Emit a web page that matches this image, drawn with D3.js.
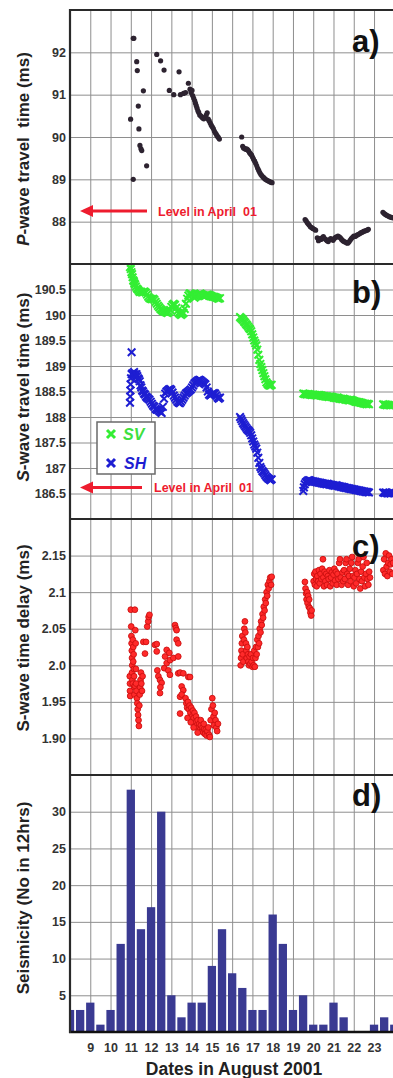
<!DOCTYPE html>
<html>
<head>
<meta charset="utf-8">
<script src="https://cdn.jsdelivr.net/npm/d3@7"></script>
<style>
  html, body { margin: 0; padding: 0; background: #fff; }
  svg { display: block; font-family: "Liberation Sans", Arial, sans-serif; }
</style>
</head>
<body>
<svg id="chart" width="393" height="1078"></svg>
<script>
// ---- data (day of August 2001, value) ----
const dayTicks = [9, 10, 11, 12, 13, 14, 15, 16, 17, 18, 19, 20, 21, 22, 23];

const pTicks = [88, 89, 90, 91, 92];
const sTicks = [186.5, 187, 187.5, 188, 188.5, 189, 189.5, 190, 190.5];
const dTicks = [1.90, 1.95, 2.0, 2.05, 2.1, 2.15];
const dTickLabels = ['1.90', '1.95', '2.0', '2.05', '2.1', '2.15'];
const qTicks = [5, 10, 15, 20, 25, 30];

// level in April 01 (reference arrows)
const pLevelApril = 88.25;
const sLevelApril = 186.62;

// a) P-wave travel time (ms)
const pWave = [
  [10.99, 90.42], [11.12, 89.00], [11.12, 92.33], [11.15, 92.33], [11.29, 91.78], [11.32, 91.57],
  [11.37, 90.73], [11.40, 90.19], [11.45, 89.80], [11.50, 89.72], [11.54, 89.68], [11.62, 91.09],
  [11.78, 89.32], [12.28, 91.95], [12.47, 91.80], [12.64, 91.58], [12.90, 91.10], [13.12, 91.00],
  [13.38, 91.54], [13.45, 91.00], [13.60, 91.03], [13.70, 91.05], [13.84, 91.27],
  [13.92, 91.13], [13.97, 91.05], [14.02, 91.10], [14.05, 90.98], [14.10, 90.92], [14.15, 90.86],
  [14.19, 90.80], [14.23, 90.74], [14.27, 90.68], [14.31, 90.62], [14.35, 90.58], [14.40, 90.52],
  [14.45, 90.50], [14.50, 90.47], [14.55, 90.45], [14.60, 90.43], [14.66, 90.46], [14.72, 90.52],
  [14.77, 90.57], [14.82, 90.42], [14.87, 90.38], [14.92, 90.33], [14.97, 90.28], [15.02, 90.24],
  [15.07, 90.20], [15.12, 90.14], [15.17, 90.10], [15.22, 90.06], [15.27, 90.02], [15.32, 89.99],
  [15.37, 89.95],
  [16.47, 90.00], [16.52, 89.78], [16.56, 89.74], [16.61, 89.73], [16.66, 89.71], [16.71, 89.72],
  [16.76, 89.70], [16.81, 89.67], [16.86, 89.63], [16.91, 89.60], [16.96, 89.57], [17.01, 89.52],
  [17.06, 89.47], [17.11, 89.43], [17.16, 89.38], [17.21, 89.32], [17.26, 89.26], [17.31, 89.21],
  [17.36, 89.16], [17.41, 89.12], [17.46, 89.09], [17.51, 89.06], [17.56, 89.04], [17.62, 89.01],
  [17.68, 88.99], [17.74, 88.97], [17.80, 88.96], [17.86, 88.94], [17.92, 88.93], [17.97, 88.92],
  [19.60, 88.05], [19.65, 88.02], [19.70, 87.98], [19.75, 87.95], [19.80, 87.92], [19.86, 87.88],
  [19.92, 87.86], [19.98, 87.84], [20.05, 87.82], [20.12, 87.80], [20.20, 87.62], [20.26, 87.55],
  [20.32, 87.60], [20.38, 87.58], [20.44, 87.62], [20.50, 87.65], [20.56, 87.60], [20.62, 87.58],
  [20.68, 87.55], [20.74, 87.53], [20.80, 87.57], [20.86, 87.60], [20.92, 87.58], [20.98, 87.56],
  [21.04, 87.60], [21.10, 87.63], [21.16, 87.64], [21.22, 87.66], [21.28, 87.64], [21.34, 87.62],
  [21.40, 87.58], [21.46, 87.55], [21.52, 87.53], [21.58, 87.52], [21.64, 87.50], [21.70, 87.49],
  [21.76, 87.52], [21.82, 87.56], [21.88, 87.60], [21.94, 87.63], [22.00, 87.66], [22.06, 87.65],
  [22.12, 87.67], [22.18, 87.69], [22.24, 87.70], [22.30, 87.72], [22.36, 87.74], [22.42, 87.75],
  [22.48, 87.77], [22.54, 87.78], [22.60, 87.79], [22.66, 87.80], [22.72, 87.82],
  [23.44, 88.22], [23.50, 88.19], [23.56, 88.17], [23.62, 88.15], [23.68, 88.14], [23.74, 88.12],
  [23.80, 88.11], [23.86, 88.10], [23.92, 88.09]
];

// b) S-wave travel time (ms), SV
const svWave = [
  [10.96, 190.94], [11.00, 190.90], [11.03, 190.84], [11.06, 190.80], [11.09, 190.74], [11.12, 190.68],
  [11.15, 190.66], [11.18, 190.62], [11.21, 190.60], [11.25, 190.56], [11.30, 190.52], [11.35, 190.50],
  [11.40, 190.47], [11.45, 190.45], [11.50, 190.46], [11.56, 190.44], [11.62, 190.45], [11.68, 190.46],
  [11.74, 190.44], [11.80, 190.40], [11.86, 190.36], [11.92, 190.33], [11.98, 190.32], [12.04, 190.31],
  [12.10, 190.32], [12.16, 190.30], [12.22, 190.26], [12.28, 190.22], [12.34, 190.18], [12.40, 190.15],
  [12.46, 190.12], [12.52, 190.10], [12.58, 190.08], [12.64, 190.07], [12.70, 190.06], [12.76, 190.05],
  [12.82, 190.04], [12.88, 190.06], [12.94, 190.10], [13.00, 190.16], [13.06, 190.20], [13.12, 190.22],
  [13.18, 190.20], [13.24, 190.14], [13.30, 190.08], [13.36, 190.04], [13.42, 190.02], [13.48, 190.00],
  [13.54, 190.02], [13.60, 190.04], [13.66, 190.12], [13.72, 190.22], [13.78, 190.32], [13.84, 190.38],
  [13.90, 190.42], [13.96, 190.42], [14.02, 190.40], [14.08, 190.36], [14.14, 190.34], [14.20, 190.36],
  [14.26, 190.38], [14.32, 190.40], [14.38, 190.41], [14.44, 190.42], [14.50, 190.40], [14.56, 190.38],
  [14.62, 190.37], [14.68, 190.38], [14.74, 190.39], [14.80, 190.40], [14.86, 190.39], [14.92, 190.38],
  [14.98, 190.37], [15.04, 190.36], [15.10, 190.36], [15.16, 190.35], [15.22, 190.34], [15.28, 190.33],
  [15.34, 190.32], [15.40, 190.33],
  [16.39, 189.96], [16.44, 189.94], [16.49, 189.92], [16.54, 189.90], [16.59, 189.87], [16.64, 189.85],
  [16.69, 189.82], [16.74, 189.80], [16.79, 189.77], [16.84, 189.74], [16.89, 189.72], [16.94, 189.68],
  [16.99, 189.62], [17.04, 189.56], [17.09, 189.50], [17.14, 189.45], [17.19, 189.40], [17.24, 189.32],
  [17.29, 189.22], [17.34, 189.12], [17.39, 189.04], [17.44, 188.98], [17.49, 188.92], [17.54, 188.86],
  [17.59, 188.80], [17.64, 188.74], [17.69, 188.68], [17.74, 188.65], [17.79, 188.63], [17.84, 188.62],
  [17.89, 188.62], [17.95, 188.63],
  [19.51, 188.46], [19.57, 188.45], [19.63, 188.45], [19.69, 188.44], [19.75, 188.45], [19.81, 188.44],
  [19.87, 188.44], [19.93, 188.43], [19.99, 188.44], [20.05, 188.43], [20.11, 188.43], [20.17, 188.42],
  [20.23, 188.43], [20.29, 188.43], [20.35, 188.42], [20.41, 188.42], [20.47, 188.41], [20.53, 188.41],
  [20.59, 188.40], [20.65, 188.40], [20.71, 188.40], [20.77, 188.39], [20.83, 188.40], [20.89, 188.39],
  [20.95, 188.39], [21.01, 188.38], [21.07, 188.38], [21.13, 188.37], [21.19, 188.38], [21.25, 188.37],
  [21.31, 188.36], [21.37, 188.36], [21.43, 188.35], [21.49, 188.36], [21.55, 188.35], [21.61, 188.34],
  [21.67, 188.34], [21.73, 188.33], [21.79, 188.33], [21.85, 188.34], [21.91, 188.33], [21.97, 188.32],
  [22.03, 188.31], [22.09, 188.30], [22.15, 188.30], [22.21, 188.29], [22.27, 188.29], [22.33, 188.28],
  [22.39, 188.28], [22.45, 188.27], [22.51, 188.26], [22.57, 188.26], [22.63, 188.25], [22.69, 188.26],
  [22.75, 188.25],
  [23.45, 188.25], [23.51, 188.24], [23.57, 188.24], [23.63, 188.23], [23.69, 188.24], [23.75, 188.23],
  [23.81, 188.23], [23.87, 188.24], [23.93, 188.24]
];

// b) S-wave travel time (ms), SH
const shWave = [
  [11.04, 189.27],
  [10.96, 188.28], [10.97, 188.40], [10.98, 188.52], [10.99, 188.64], [11.01, 188.76], [11.04, 188.84],
  [11.08, 188.86], [11.12, 188.84], [11.16, 188.88], [11.20, 188.84], [11.24, 188.80], [11.28, 188.84],
  [11.32, 188.80], [11.36, 188.76], [11.40, 188.74], [11.44, 188.70], [11.48, 188.62], [11.52, 188.58],
  [11.56, 188.52], [11.60, 188.50], [11.65, 188.46], [11.70, 188.44], [11.75, 188.40], [11.80, 188.38],
  [11.86, 188.36], [11.92, 188.34], [11.98, 188.30], [12.04, 188.26], [12.10, 188.22], [12.16, 188.20],
  [12.22, 188.16], [12.28, 188.14], [12.34, 188.14], [12.40, 188.12], [12.46, 188.10], [12.52, 188.08],
  [12.58, 188.20], [12.64, 188.36], [12.70, 188.46], [12.76, 188.50], [12.82, 188.52], [12.88, 188.54],
  [12.94, 188.55], [13.00, 188.53], [13.06, 188.48], [13.12, 188.42], [13.18, 188.38], [13.24, 188.34],
  [13.30, 188.30], [13.36, 188.28], [13.42, 188.27], [13.48, 188.30], [13.54, 188.34], [13.60, 188.38],
  [13.66, 188.42], [13.72, 188.46], [13.78, 188.48], [13.84, 188.50], [13.90, 188.52], [13.96, 188.54],
  [14.02, 188.58], [14.08, 188.62], [14.14, 188.66], [14.20, 188.68], [14.26, 188.70], [14.32, 188.72],
  [14.38, 188.73], [14.44, 188.72], [14.50, 188.70], [14.56, 188.68], [14.62, 188.66], [14.68, 188.64],
  [14.74, 188.58], [14.80, 188.50], [14.86, 188.44], [14.92, 188.42], [14.98, 188.44], [15.04, 188.46],
  [15.10, 188.47], [15.16, 188.46], [15.22, 188.42], [15.28, 188.38], [15.34, 188.36], [15.40, 188.38],
  [16.39, 188.00], [16.44, 187.96], [16.49, 187.92], [16.54, 187.88], [16.59, 187.85], [16.64, 187.82],
  [16.69, 187.79], [16.74, 187.76], [16.79, 187.74], [16.84, 187.72], [16.89, 187.69], [16.94, 187.64],
  [16.99, 187.58], [17.04, 187.52], [17.09, 187.46], [17.14, 187.42], [17.19, 187.38], [17.24, 187.30],
  [17.29, 187.20], [17.34, 187.10], [17.39, 187.02], [17.44, 186.98], [17.49, 186.94], [17.54, 186.92],
  [17.59, 186.89], [17.64, 186.86], [17.69, 186.83], [17.74, 186.81], [17.79, 186.79], [17.84, 186.78],
  [17.89, 186.76], [17.95, 186.78],
  [19.51, 186.55], [19.54, 186.62], [19.58, 186.68], [19.63, 186.72], [19.69, 186.74], [19.75, 186.76],
  [19.81, 186.76], [19.87, 186.75], [19.93, 186.74], [19.99, 186.74], [20.05, 186.73], [20.11, 186.73],
  [20.17, 186.72], [20.23, 186.72], [20.29, 186.71], [20.35, 186.71], [20.41, 186.70], [20.47, 186.70],
  [20.53, 186.69], [20.59, 186.69], [20.65, 186.68], [20.71, 186.69], [20.77, 186.68], [20.83, 186.67],
  [20.89, 186.67], [20.95, 186.66], [21.01, 186.66], [21.07, 186.65], [21.13, 186.66], [21.19, 186.65],
  [21.25, 186.64], [21.31, 186.64], [21.37, 186.63], [21.43, 186.63], [21.49, 186.62], [21.55, 186.62],
  [21.61, 186.61], [21.67, 186.61], [21.73, 186.60], [21.79, 186.60], [21.85, 186.59], [21.91, 186.59],
  [21.97, 186.58], [22.03, 186.58], [22.09, 186.57], [22.15, 186.57], [22.21, 186.56], [22.27, 186.56],
  [22.33, 186.55], [22.39, 186.55], [22.45, 186.54], [22.51, 186.54], [22.57, 186.53], [22.63, 186.53],
  [22.69, 186.53], [22.75, 186.52],
  [23.45, 186.52], [23.51, 186.51], [23.57, 186.52], [23.63, 186.51], [23.69, 186.50], [23.75, 186.51],
  [23.81, 186.50], [23.87, 186.51], [23.93, 186.52]
];

// c) S-wave time delay (ms)
const swDelay = [
  [10.95, 1.985], [10.96, 1.975], [10.96, 1.965], [10.97, 1.958], [11.00, 2.076], [11.02, 2.053],
  [11.03, 2.040], [11.04, 2.030], [11.05, 2.020], [11.06, 2.010], [11.07, 2.000], [11.06, 1.990],
  [11.08, 1.980], [11.10, 1.975], [11.10, 2.035], [11.12, 2.025], [11.14, 2.015], [11.12, 2.005],
  [11.15, 1.995], [11.16, 1.985], [11.17, 1.970], [11.18, 1.960], [11.20, 1.972], [11.20, 2.076],
  [11.22, 2.048], [11.24, 2.030], [11.25, 1.995], [11.26, 1.975], [11.28, 1.965], [11.30, 1.955],
  [11.32, 1.948], [11.34, 1.940], [11.36, 1.932], [11.38, 1.925], [11.40, 1.917], [11.42, 1.945],
  [11.44, 1.960], [11.46, 1.970], [11.48, 1.980], [11.50, 1.990], [11.52, 1.975], [11.55, 1.965],
  [11.58, 1.985], [11.62, 2.032],
  [11.75, 2.032], [11.81, 2.053], [11.86, 2.060], [11.88, 2.066], [11.92, 2.069], [11.70, 2.016],
  [12.19, 2.028], [12.28, 2.019], [12.28, 2.029], [12.31, 1.993], [12.36, 1.985], [12.44, 1.980],
  [12.52, 1.976], [12.44, 1.962], [12.46, 1.970], [12.65, 1.996], [12.69, 2.012], [12.77, 2.021],
  [12.77, 2.003], [12.85, 1.993], [12.90, 2.017], [12.93, 2.007], [12.93, 1.987], [13.10, 2.010],
  [13.18, 2.055], [13.22, 2.051], [13.26, 2.048], [13.26, 2.035], [13.34, 2.030], [13.34, 2.012],
  [13.34, 1.989], [13.43, 1.990], [13.59, 1.989], [13.51, 1.971], [13.59, 1.966], [13.43, 1.957],
  [13.43, 1.934], [13.51, 1.960], [13.84, 1.984], [13.92, 1.984],
  [13.70, 1.955], [13.74, 1.948], [13.78, 1.942], [13.82, 1.950], [13.86, 1.940], [13.90, 1.945],
  [13.94, 1.935], [13.98, 1.942], [14.02, 1.930], [14.06, 1.938], [14.10, 1.928], [14.14, 1.935],
  [14.18, 1.922], [14.22, 1.930], [14.26, 1.918], [14.30, 1.925], [14.34, 1.915], [14.38, 1.920],
  [14.42, 1.912], [14.46, 1.918], [14.50, 1.910], [14.54, 1.915], [14.58, 1.908], [14.62, 1.913],
  [14.66, 1.906], [14.70, 1.912], [14.74, 1.904], [14.78, 1.910], [14.82, 1.915], [14.86, 1.905],
  [14.90, 1.902], [14.94, 1.925], [14.98, 1.940], [15.02, 1.955], [15.05, 1.945], [15.08, 1.930],
  [15.10, 1.918], [15.14, 1.935], [15.18, 1.925], [15.22, 1.915], [15.26, 1.910], [15.30, 1.920],
  [13.80, 1.928], [13.96, 1.922], [14.10, 1.915], [14.30, 1.908], [14.45, 1.925], [14.60, 1.920],
  [16.42, 2.000], [16.44, 2.010], [16.46, 2.020], [16.48, 2.030], [16.50, 2.040], [16.52, 2.015],
  [16.55, 2.005], [16.58, 2.035], [16.60, 2.050], [16.63, 2.060], [16.65, 2.045], [16.68, 2.030],
  [16.70, 2.020], [16.72, 2.010], [16.75, 2.025], [16.78, 2.015], [16.80, 2.005], [16.83, 2.000],
  [16.86, 2.012], [16.90, 2.002], [16.93, 2.015], [16.96, 2.005], [17.00, 1.998], [17.03, 2.010],
  [17.06, 2.000], [17.09, 2.020], [17.12, 1.998], [17.15, 2.010], [17.18, 2.025], [17.21, 2.015],
  [17.24, 2.035], [17.27, 2.025], [17.30, 2.040], [17.33, 2.030], [17.36, 2.050], [17.40, 2.045],
  [17.43, 2.060], [17.46, 2.055], [17.50, 2.070], [17.53, 2.065], [17.56, 2.080], [17.60, 2.075],
  [17.63, 2.090], [17.66, 2.085], [17.70, 2.100], [17.73, 2.095], [17.76, 2.110], [17.80, 2.105],
  [17.84, 2.115], [17.88, 2.120], [17.92, 2.110], [17.95, 2.121],
  [19.59, 2.114], [19.62, 2.105], [19.65, 2.098], [19.67, 2.090], [19.70, 2.100], [19.72, 2.085],
  [19.75, 2.095], [19.78, 2.080], [19.80, 2.090], [19.83, 2.078], [19.86, 2.072], [19.90, 2.068],
  [19.92, 2.075],
  [20.02, 2.115], [20.05, 2.125], [20.08, 2.110], [20.11, 2.128], [20.14, 2.118], [20.17, 2.108],
  [20.20, 2.122], [20.24, 2.115], [20.28, 2.130], [20.32, 2.112], [20.36, 2.125], [20.40, 2.118],
  [20.44, 2.132], [20.48, 2.145], [20.50, 2.120], [20.53, 2.108], [20.56, 2.128], [20.60, 2.115],
  [20.64, 2.125], [20.68, 2.110], [20.72, 2.122], [20.76, 2.118], [20.80, 2.130], [20.84, 2.108],
  [20.88, 2.120], [20.92, 2.127], [20.96, 2.112], [21.00, 2.124], [21.04, 2.132], [21.08, 2.116],
  [21.12, 2.128], [21.16, 2.110], [21.20, 2.125], [21.24, 2.118], [21.28, 2.140], [21.32, 2.145],
  [21.36, 2.120], [21.40, 2.110], [21.44, 2.127], [21.48, 2.115], [21.52, 2.130], [21.56, 2.118],
  [21.60, 2.140], [21.64, 2.145], [21.68, 2.125], [21.72, 2.110], [21.76, 2.122], [21.80, 2.132],
  [21.84, 2.115], [21.88, 2.140], [21.92, 2.148], [21.96, 2.122], [22.00, 2.108], [22.04, 2.120],
  [22.08, 2.130], [22.12, 2.112], [22.16, 2.125], [22.20, 2.140], [22.24, 2.145], [22.28, 2.118],
  [22.32, 2.105], [22.36, 2.128], [22.40, 2.115], [22.44, 2.135], [22.48, 2.148], [22.52, 2.120],
  [22.56, 2.108], [22.60, 2.125], [22.64, 2.140], [22.68, 2.118], [22.72, 2.110], [22.76, 2.128],
  [22.80, 2.120],
  [23.46, 2.130], [23.50, 2.145], [23.54, 2.125], [23.58, 2.153], [23.62, 2.135], [23.66, 2.122],
  [23.70, 2.140], [23.74, 2.150], [23.78, 2.128], [23.82, 2.138], [23.86, 2.145], [23.90, 2.125],
  [23.94, 2.140]
];

// d) Seismicity, number of events per 12 hours
const quakeDays = [8, 8.5, 9, 9.5, 10, 10.5, 11, 11.5, 12, 12.5, 13, 13.5, 14, 14.5, 15, 15.5,
                   16, 16.5, 17, 17.5, 18, 18.5, 19, 19.5, 20, 20.5, 21, 21.5, 22, 22.5, 23, 23.5, 24];
const quakeCounts = [3, 3, 4, 1, 3, 12, 33, 14, 17, 30, 5, 2, 4, 4, 9, 14,
                     8, 6, 3, 3, 16, 12, 3, 5, 1, 1, 4, 2, 0, 0, 1, 2, 1];

// ---- layout ----
const W = 393;
const svg = d3.select('#chart');
const x = d3.scaleLinear().domain([8, 24]).range([70, 394.3]);

const panels = [
  { id: 'a', top: 10,  bottom: 264,  domain: [87, 93],     ticks: pTicks, fmt: d => d,         titleY: 149 },
  { id: 'b', top: 264, bottom: 519,  domain: [186, 191],   ticks: sTicks, fmt: d => d,         titleY: 387 },
  { id: 'c', top: 519, bottom: 775,  domain: [1.85, 2.2],  ticks: dTicks, fmt: (d, i) => dTickLabels[i], titleY: 638 },
  { id: 'd', top: 775, bottom: 1032, domain: [0, 35],      ticks: qTicks, fmt: d => d,         titleY: 898 }
];

const gridColor = '#8e8e8e';

panels.forEach(p => {
  p.y = d3.scaleLinear().domain(p.domain).range([p.bottom, p.top]);

  svg.append('clipPath').attr('id', 'clip-' + p.id)
    .append('rect')
    .attr('x', 70).attr('y', p.top)
    .attr('width', W - 70).attr('height', p.bottom - p.top);

  // vertical day grid
  const gx = svg.append('g')
    .attr('transform', `translate(0,${p.bottom})`)
    .call(d3.axisBottom(x).tickValues(dayTicks).tickSize(-(p.bottom - p.top)).tickFormat(''));
  gx.select('.domain').remove();
  gx.selectAll('line').attr('stroke', gridColor).attr('stroke-width', 1);

  // horizontal grid + y labels
  const gy = svg.append('g')
    .attr('transform', 'translate(70,0)')
    .call(d3.axisLeft(p.y).tickValues(p.ticks).tickSize(-(W - 70)).tickPadding(4).tickFormat(p.fmt));
  gy.select('.domain').remove();
  gy.selectAll('line').attr('stroke', gridColor).attr('stroke-width', 1);
  gy.selectAll('text')
    .attr('fill', '#333')
    .style('font-size', '12.5px')
    .style('font-weight', 'bold')
    .style('font-family', '"Liberation Sans", Arial, sans-serif');
});

const [pa, pb, pc, pd] = panels;

// a) P-wave dots
svg.append('g').attr('clip-path', 'url(#clip-a)')
  .selectAll('circle').data(pWave).enter().append('circle')
  .attr('cx', d => x(d[0])).attr('cy', d => pa.y(d[1]))
  .attr('r', 2.6)
  .attr('fill', '#2d2330');

// b) S-wave crosses
const cross = 'M-3.8,-3.8L3.8,3.8M-3.8,3.8L3.8,-3.8';
const gb = svg.append('g').attr('clip-path', 'url(#clip-b)');
gb.selectAll('.sv').data(svWave).enter().append('path')
  .attr('class', 'sv')
  .attr('d', cross)
  .attr('transform', d => `translate(${x(d[0])},${pb.y(d[1])})`)
  .attr('stroke', '#33ee33').attr('stroke-width', 2).attr('fill', 'none');
gb.selectAll('.sh').data(shWave).enter().append('path')
  .attr('class', 'sh')
  .attr('d', cross)
  .attr('transform', d => `translate(${x(d[0])},${pb.y(d[1])})`)
  .attr('stroke', '#1e1ed2').attr('stroke-width', 2).attr('fill', 'none');

// c) delay circles
svg.append('g').attr('clip-path', 'url(#clip-c)')
  .selectAll('circle').data(swDelay).enter().append('circle')
  .attr('cx', d => x(d[0])).attr('cy', d => pc.y(d[1]))
  .attr('r', 2.9)
  .attr('fill', '#ff2a2a')
  .attr('stroke', '#cc1010').attr('stroke-width', 0.9);

// d) seismicity bars
const barW = x(8.41) - x(8);
svg.append('g').attr('clip-path', 'url(#clip-d)')
  .selectAll('rect').data(quakeDays).enter().append('rect')
  .attr('x', d => x(d) - barW / 2)
  .attr('y', (d, i) => pd.y(quakeCounts[i]))
  .attr('width', barW)
  .attr('height', (d, i) => pd.y(0) - pd.y(quakeCounts[i]))
  .attr('fill', '#3a3a92');

// frame
const frame = svg.append('g');
[10, 264, 519, 775].forEach(yy => {
  frame.append('line').attr('x1', 69).attr('x2', W).attr('y1', yy).attr('y2', yy)
    .attr('stroke', '#2a2a2a').attr('stroke-width', 2.2);
});
frame.append('line').attr('x1', 69).attr('x2', W).attr('y1', 1032).attr('y2', 1032)
  .attr('stroke', '#111').attr('stroke-width', 2.6);
frame.append('line').attr('x1', 70).attr('x2', 70).attr('y1', 9).attr('y2', 1033)
  .attr('stroke', '#2a2a2a').attr('stroke-width', 2.2);

// panel letters
[['a)', 52], ['b)', 303], ['c)', 557], ['d)', 806]].forEach(([t, yy]) => {
  svg.append('text').attr('x', 352).attr('y', yy).text(t)
    .attr('font-size', 31).attr('font-weight', 'bold').attr('fill', '#111');
});

// y titles
function yTitle(cy, parts) {
  const t = svg.append('text')
    .attr('transform', `translate(29,${cy}) rotate(-90)`)
    .attr('text-anchor', 'middle')
    .attr('font-size', 17).attr('font-weight', 'bold').attr('fill', '#222')
    .style('white-space', 'pre');
  parts.forEach(([s, it]) => t.append('tspan').text(s).attr('font-style', it ? 'italic' : 'normal'));
}
yTitle(pa.titleY, [['P', true], ['-wave travel  time (ms)', false]]);
yTitle(pb.titleY, [['S', true], ['-wave travel time (ms)', false]]);
yTitle(pc.titleY, [['S-wave time delay (ms)', false]]);
yTitle(pd.titleY, [['Seismicity (No in 12hrs)', false]]);

// April level arrows
function levelArrow(yPix, x1, textX) {
  const red = '#ee1c2e';
  svg.append('line').attr('x1', 88).attr('x2', x1).attr('y1', yPix).attr('y2', yPix)
    .attr('stroke', red).attr('stroke-width', 3);
  svg.append('path')
    .attr('d', `M80,${yPix}L93,${yPix - 6}L93,${yPix + 6}Z`)
    .attr('fill', red);
  svg.append('text').attr('x', textX).attr('y', yPix + 4.5)
    .attr('font-size', 12.5).attr('font-weight', 'bold').attr('fill', red)
    .style('white-space', 'pre')
    .text('Level in April  01');
}
levelArrow(pa.y(pLevelApril), 147, 158);
levelArrow(pb.y(sLevelApril), 142, 154);

// legend in panel b
const lg = svg.append('g');
lg.append('rect').attr('x', 97).attr('y', 422).attr('width', 58).attr('height', 52)
  .attr('fill', '#fff').attr('stroke', '#6a6a6a').attr('stroke-width', 1.5);
lg.append('path').attr('d', 'M-4,-4L4,4M-4,4L4,-4').attr('transform', 'translate(111,434)')
  .attr('stroke', '#33ee33').attr('stroke-width', 3);
lg.append('path').attr('d', 'M-4,-4L4,4M-4,4L4,-4').attr('transform', 'translate(111,463)')
  .attr('stroke', '#1e1ed2').attr('stroke-width', 3);
lg.append('text').attr('x', 123).attr('y', 440).text('SV')
  .attr('font-size', 16).attr('font-weight', 'bold').attr('font-style', 'italic').attr('fill', '#3ee03e');
lg.append('text').attr('x', 124).attr('y', 469).text('SH')
  .attr('font-size', 16).attr('font-weight', 'bold').attr('font-style', 'italic').attr('fill', '#1e1ed2');

// x tick labels and title
const gxb = svg.append('g')
  .attr('transform', 'translate(0,1032)')
  .call(d3.axisBottom(x).tickValues(dayTicks).tickSize(0).tickPadding(11));
gxb.select('.domain').remove();
gxb.selectAll('text')
  .attr('fill', '#333')
  .style('font-size', '12.5px')
  .style('font-weight', 'bold')
  .style('font-family', '"Liberation Sans", Arial, sans-serif');

svg.append('text').attr('x', 234).attr('y', 1075).attr('text-anchor', 'middle')
  .attr('font-size', 17.5).attr('font-weight', 'bold').attr('fill', '#222')
  .text('Dates in August 2001');
</script>
</body>
</html>
